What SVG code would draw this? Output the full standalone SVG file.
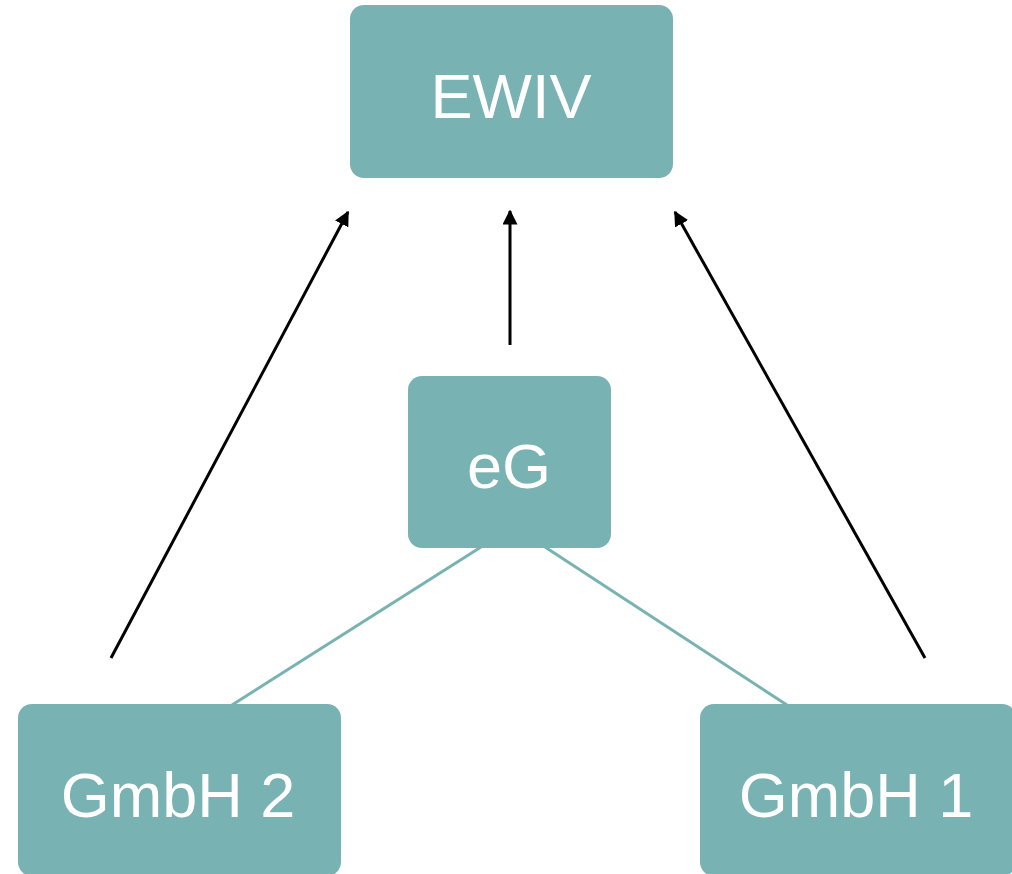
<svg xmlns="http://www.w3.org/2000/svg" width="1012" height="874" viewBox="0 0 1012 874">
<style>
.box{fill:#78b2b2}
.lbl{fill:#ffffff;font-family:"Liberation Sans",Arial,sans-serif;font-size:63px;text-anchor:middle}
.arr{stroke:#000;stroke-width:3;fill:none;marker-end:url(#ah)}
.ln{stroke:#78b2b2;stroke-width:3;fill:none}
</style>
<defs>
<marker id="ah" viewBox="0 0 10 10" refX="9" refY="5" markerWidth="5" markerHeight="5" orient="auto" markerUnits="strokeWidth">
<path d="M0,0 L10,5 L0,10 z" fill="#000"/>
</marker>
</defs>
<g id="connectors">
<line class="ln" x1="481" y1="547" x2="232" y2="705"/>
<line class="ln" x1="545" y1="547" x2="787" y2="705"/>
<line class="arr" x1="111" y1="658" x2="348" y2="212"/>
<line class="arr" x1="510" y1="345" x2="510" y2="211"/>
<line class="arr" x1="925" y1="658" x2="675" y2="212"/>
</g>
<g id="ewiv">
<rect class="box" x="350" y="5" width="323" height="173" rx="14"/>
<text class="lbl" x="511" y="118">EWIV</text>
</g>
<g id="eg">
<rect class="box" x="408" y="376" width="203" height="172" rx="14"/>
<text class="lbl" x="509" y="488">eG</text>
</g>
<g id="gmbh2">
<rect class="box" x="18" y="704" width="323" height="172" rx="14"/>
<text class="lbl" x="178" y="817">GmbH 2</text>
</g>
<g id="gmbh1">
<rect class="box" x="700" y="704" width="316" height="172" rx="14"/>
<text class="lbl" x="856" y="817">GmbH 1</text>
</g>
</svg>
